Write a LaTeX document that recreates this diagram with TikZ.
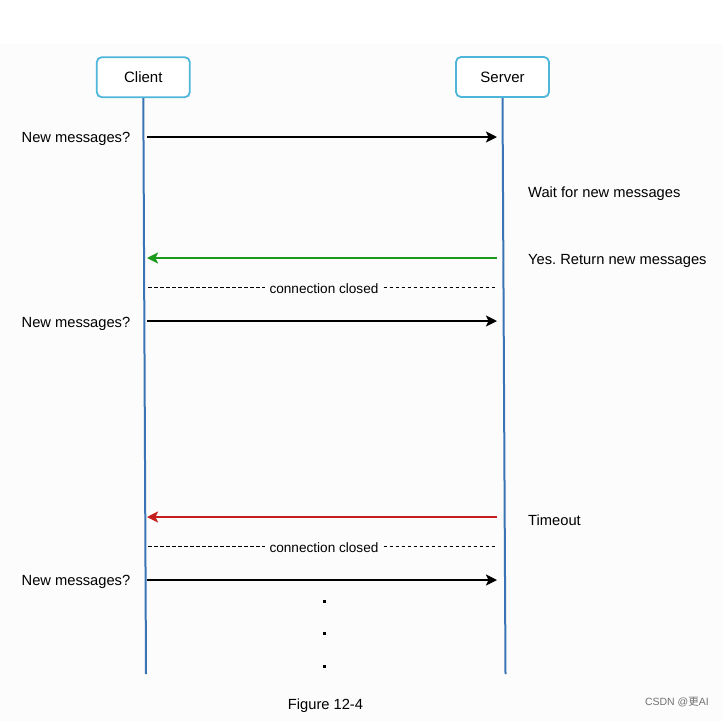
\documentclass[tikz,border=0pt]{standalone}
\usepackage{fontspec}
\setmainfont{Liberation Sans}
\newfontfamily\cjkfont{Noto Sans CJK SC}
\usetikzlibrary{arrows.meta}
\definecolor{boxc}{HTML}{4DB6DA}
\definecolor{lifec}{HTML}{3B74B4}
\definecolor{greenc}{HTML}{1A9A1A}
\definecolor{redc}{HTML}{C41E1E}
\definecolor{bgc}{HTML}{FCFCFC}
\frenchspacing
\begin{document}
\begin{tikzpicture}[x=1pt,y=-1pt,
  actor/.style={draw=boxc,line width=1.8pt,rounded corners=5pt,minimum width=93pt,minimum height=40pt,inner sep=0pt,font=\fontsize{15}{18}\selectfont,fill=white},
  lifeline/.style={draw=lifec,line width=2pt},
  msg/.style={line width=2pt,-{Stealth[length=11pt,width=11pt,inset=2.5pt]}},
  lbl/.style={font=\fontsize{14.7}{17}\selectfont,inner sep=0pt},
  closedlbl/.style={font=\fontsize{13.6}{16}\selectfont,inner sep=0pt},
  closedline/.style={line width=1pt,dash pattern=on 3.5pt off 2.5pt},
  dotm/.style={fill=black,minimum size=3pt,inner sep=0pt}]
\useasboundingbox (0,0) rectangle (722,721);
\fill[bgc] (0,44) rectangle (722,721);
% actors
\node[actor] (client) at (143.3,77.2) {Client};
\node[actor] (server) at (502.5,77) {Server};
\coordinate (clientend) at (146,674);
\coordinate (serverend) at (505.5,674);
\draw[lifeline] (client.south) -- (clientend);
\draw[lifeline] (server.south) -- (serverend);
% message coordinates
\coordinate (c1) at (147,137);  \coordinate (s1) at (497,137);
\coordinate (c2) at (147,258);  \coordinate (s2) at (497,258);
\coordinate (c3) at (148,287.5);    \coordinate (s3) at (495,287.5);
\coordinate (c4) at (147,321);    \coordinate (s4) at (497,321);
\coordinate (c5) at (147,517);    \coordinate (s5) at (497,517);
\coordinate (c6) at (148,546.5);  \coordinate (s6) at (495,546.5);
\coordinate (c7) at (147,580);    \coordinate (s7) at (497,580);
% labels
\node[lbl,anchor=base east] (q1) at (130.5,142.3) {New messages?};
\node[lbl,anchor=base west] (wait) at (528,197) {Wait for new messages};
\node[lbl,anchor=base west] (yes) at (528,264) {Yes. Return new messages};
\node[lbl,anchor=base east] (q2) at (130.5,327) {New messages?};
\node[lbl,anchor=base west] (timeout) at (528,525.5) {Timeout};
\node[lbl,anchor=base east] (q3) at (130.5,585.3) {New messages?};
\node[closedlbl,anchor=base] (cc1) at (324,293.3) {connection closed};
\node[closedlbl,anchor=base] (cc2) at (324,552.8) {connection closed};
% messages
\draw[msg] (c1) -- (s1);
\draw[msg,draw=greenc,fill=greenc] (s2) -- (c2);
\draw[closedline] (c3) -- ([xshift=-4pt]cc1.west |- c3);
\draw[closedline] ([xshift=5pt]cc1.east |- s3) -- (s3);
\draw[msg] (c4) -- (s4);
\draw[msg,draw=redc,fill=redc] (s5) -- (c5);
\draw[closedline] (c6) -- ([xshift=-4pt]cc2.west |- c6);
\draw[closedline] ([xshift=5pt]cc2.east |- s6) -- (s6);
\draw[msg] (c7) -- (s7);
% continuation dots
\node[dotm] (d1) at (324.5,601.5) {};
\node[dotm] (d2) at (324.5,633.5) {};
\node[dotm] (d3) at (324.5,666.5) {};
% caption
\node[lbl,anchor=base] (fig) at (325.5,709.3) {Figure 12-4};
\node[font=\fontsize{10.5}{12}\selectfont,text=black!55,anchor=base east,inner sep=0pt] (csdn) at (709,705) {CSDN @{\cjkfont 更}AI};
\end{tikzpicture}
\end{document}
